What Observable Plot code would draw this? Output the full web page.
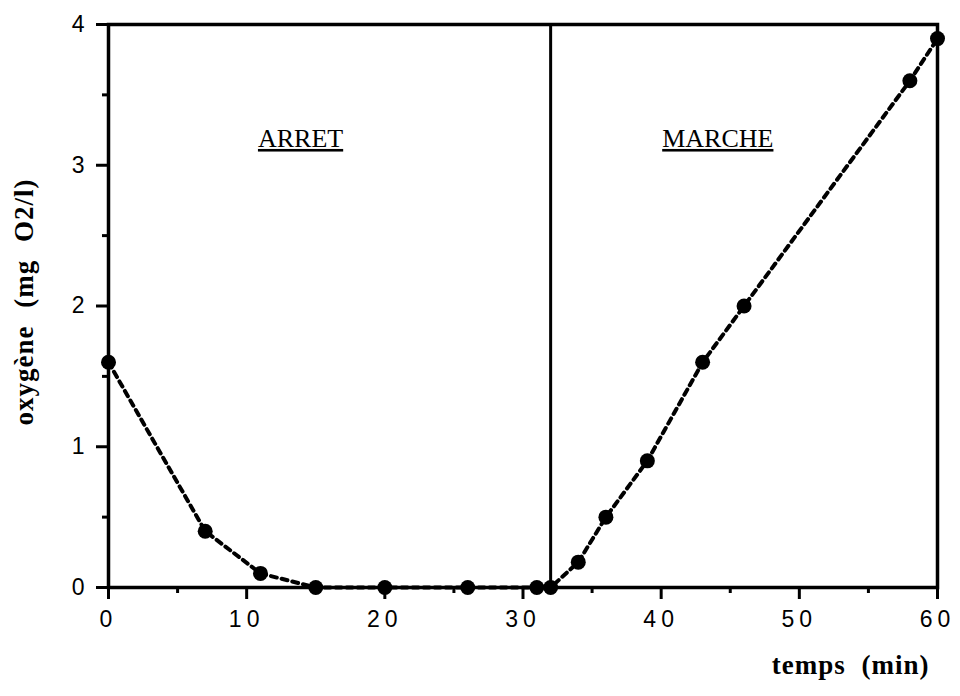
<!DOCTYPE html>
<html>
<head>
<meta charset="utf-8">
<script src="https://cdn.jsdelivr.net/npm/d3@7"></script>
<script src="https://cdn.jsdelivr.net/npm/@observablehq/plot@0.6"></script>
<style>
  html, body { margin: 0; padding: 0; background: #fff; }
  #chart svg { display: block; }
  #chart svg g[aria-label*="tick"]:not([aria-label*="label"]) path,
  #chart svg g[aria-label*="tick"]:not([aria-label*="label"]) line { stroke-width: 3px !important; stroke: #000 !important; }
  #chart svg g[aria-label="frame"] rect { stroke-width: 3.5px !important; }
  #chart svg g[aria-label="x-axis tick label"] text { font-size: 23px !important; letter-spacing: 5px; fill: #000; }
  #chart svg g[aria-label="y-axis tick label"] text { font-size: 23px !important; fill: #000; }
</style>
</head>
<body>
<div id="chart"></div>
<script>
// Data
const time   = [0, 7, 11, 15, 20, 26, 31, 32, 34, 36, 39, 43, 46, 58, 60];
const oxygen = [1.6, 0.4, 0.1, 0, 0, 0, 0, 0, 0.18, 0.5, 0.9, 1.6, 2.0, 3.6, 3.9];

const switchTime = [32];

const phaseLabels = ["ARRET", "MARCHE"];
const phaseX = [13.9, 44.1];
const phaseY = [3.13, 3.13];

const xMajorTicks = [0, 10, 20, 30, 40, 50, 60];
const xMinorTicks = [5, 15, 25, 35, 45, 55];
const yMajorTicks = [0, 1, 2, 3, 4];
const yMinorTicks = [0.5, 1.5, 2.5, 3.5];

const xTitle = "temps (min)";
const yTitle = "oxygène (mg O2/l)";

const points = time.map((t, i) => ({t, o: oxygen[i]}));
const phases = phaseLabels.map((label, i) => ({label, x: phaseX[i], y: phaseY[i]}));

const serif = "'Liberation Serif', 'Times New Roman', serif";

const chart = Plot.plot({
  width: 960,
  height: 696,
  marginLeft: 108,
  marginRight: 23,
  marginTop: 24,
  marginBottom: 109,
  style: {background: "#fff", color: "#000", fontFamily: "'Liberation Sans', Arial, sans-serif"},
  x: {domain: [0, 60]},
  y: {domain: [0, 4]},
  marks: [
    Plot.axisX(xMajorTicks, {tickSize: 12, tickPadding: 11, tickFormat: d => String(d), label: null}),
    Plot.axisX(xMinorTicks, {tickSize: 6, tickFormat: () => "", label: null}),
    Plot.axisY(yMajorTicks, {tickSize: 12, tickPadding: 12, tickFormat: d => String(d), label: null}),
    Plot.axisY(yMinorTicks, {tickSize: 6, tickFormat: () => "", label: null}),
    Plot.frame({stroke: "#000", strokeWidth: 3.5}),
    Plot.ruleX(switchTime, {y1: 0, y2: 4, stroke: "#000", strokeWidth: 3}),
    Plot.line(points, {x: "t", y: "o", stroke: "#000", strokeWidth: 4, strokeDasharray: "6,5"}),
    Plot.dot(points, {x: "t", y: "o", r: 7.5, fill: "#000", stroke: "none"}),
    Plot.text(phases, {x: "x", y: "y", text: "label", lineAnchor: "bottom", fontSize: 26,
      fontFamily: serif, fill: "#000"}),
    Plot.text([xTitle], {frameAnchor: "bottom-right", text: d => d, textAnchor: "end", dx: -8, dy: 86,
      fontSize: 27, fontWeight: "bold", fontFamily: serif, fill: "#000"}),
    Plot.text([yTitle], {frameAnchor: "left", text: d => d, textAnchor: "middle", rotate: -90, dx: -84, dy: -4,
      fontSize: 27, fontWeight: "bold", fontFamily: serif, fill: "#000"})
  ]
});

// Styling touches applied to the rendered SVG
const svg = d3.select(chart);
svg.selectAll("g").filter(function() {
  const a = this.getAttribute("aria-label") || "";
  return a.includes("tick") && !a.includes("label");
}).selectAll("path, line").style("stroke-width", "3px").style("stroke", "#000");
svg.selectAll("text").filter(function() { return phaseLabels.includes(this.textContent); })
  .style("text-decoration", "underline");
svg.selectAll("text").filter(function() { return this.textContent === xTitle; })
  .style("letter-spacing", "1px").style("word-spacing", "8px");
svg.selectAll("text").filter(function() { return this.textContent === yTitle; })
  .style("letter-spacing", "1px").style("word-spacing", "10px");

document.getElementById("chart").appendChild(chart);
</script>
</body>
</html>
